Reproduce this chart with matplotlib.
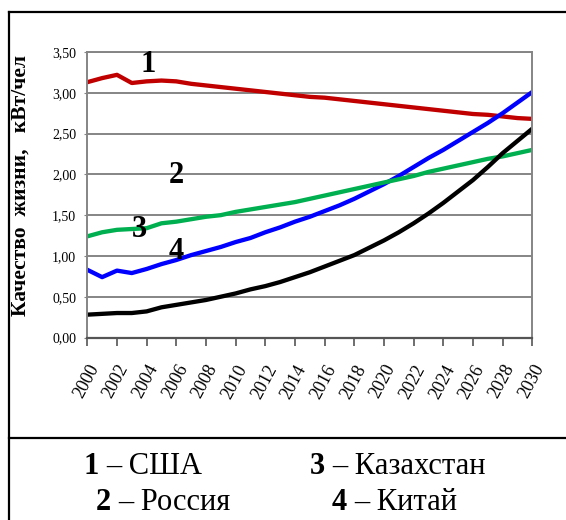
import matplotlib
matplotlib.use('Agg')
import matplotlib.pyplot as plt
from matplotlib.lines import Line2D
from matplotlib.transforms import ScaledTranslation
import numpy as np

# data
years = list(range(2000, 2031))
usa = [3.13, 3.18, 3.22, 3.12, 3.14, 3.15, 3.14, 3.11, 3.09, 3.07, 3.05,
       3.03, 3.01, 2.99, 2.97, 2.95, 2.94, 2.92, 2.90, 2.88, 2.86,
       2.84, 2.82, 2.80, 2.78, 2.76, 2.74, 2.73, 2.71, 2.69, 2.68]
blue = [0.83, 0.74, 0.82, 0.79, 0.84, 0.90, 0.95, 1.01, 1.06, 1.11, 1.17,
        1.22, 1.29, 1.35, 1.42, 1.48, 1.55, 1.62, 1.70, 1.79, 1.88,
        1.98, 2.09, 2.20, 2.30, 2.41, 2.52, 2.63, 2.75, 2.88, 3.01]
green = [1.24, 1.29, 1.32, 1.33, 1.34, 1.40, 1.42, 1.45, 1.48, 1.50, 1.54,
         1.57, 1.60, 1.63, 1.66, 1.70, 1.74, 1.78, 1.82, 1.86, 1.90,
         1.94, 1.98, 2.03, 2.07, 2.11, 2.15, 2.19, 2.22, 2.26, 2.30]
black = [0.28, 0.29, 0.30, 0.30, 0.32, 0.37, 0.40, 0.43, 0.46, 0.50, 0.54,
         0.59, 0.63, 0.68, 0.74, 0.80, 0.87, 0.94, 1.01, 1.10, 1.19,
         1.29, 1.40, 1.52, 1.65, 1.79, 1.93, 2.09, 2.26, 2.41, 2.56]

line_labels = ['1', '2', '3', '4']
label_pos = [(2004.1, 3.35), (2006.0, 1.99), (2003.5, 1.32), (2006.0, 1.05)]
legend_nums = ['1', '3', '2', '4']
legend_names = ['– США', '– Казахстан', '– Россия', '– Китай']

yticks = [0, 0.5, 1.0, 1.5, 2.0, 2.5, 3.0, 3.5]
xticks = list(range(2000, 2031, 2))

W, H = 566, 520
fig = plt.figure(figsize=(W / 100, H / 100), dpi=100)
serif = ['Liberation Serif', 'DejaVu Serif']
plt.rcParams['font.family'] = serif

ax = fig.add_axes([87.3 / W, 1 - 337.5 / H, (532.3 - 87.3) / W, (337.5 - 52) / H])

ax.plot(years, usa, color='#C00000', lw=3.1)
ax.plot(years, blue, color='#0000FF', lw=3.1)
ax.plot(years, green, color='#00B050', lw=3.1)
ax.plot(years, black, color='black', lw=3.1)

for t, (x, y) in zip(line_labels, label_pos):
    ax.text(x, y, t, fontsize=22, fontweight='bold', ha='center', va='center')

ax.set_xlim(2000, 2030)
ax.set_ylim(0, 3.5)
ax.set_yticks(yticks)
ax.set_yticklabels([f'{v:.2f}'.replace('.', ',') for v in yticks], fontsize=10)
ax.set_xticks(xticks)
ax.set_xticklabels([str(v) for v in xticks], fontsize=13, rotation=62,
                   ha='right', va='top', rotation_mode='anchor')
off = ScaledTranslation(3 / 100, 0, fig.dpi_scale_trans)
for lab in ax.get_xticklabels():
    lab.set_transform(lab.get_transform() + off)

ax.grid(axis='y', color='#858585', lw=1.4)
ax.set_axisbelow(True)
for s in ['left', 'right', 'top']:
    ax.spines[s].set_color('#858585')
    ax.spines[s].set_linewidth(1.4)
ax.spines['bottom'].set_color('#555555')
ax.spines['bottom'].set_linewidth(1.6)
ax.tick_params(axis='y', length=2, pad=6, color='#858585')
ax.tick_params(axis='x', length=5.5, width=1.2, pad=12, color='#555555')

ax.set_ylabel('Качество  жизни,   кВт/чел', fontsize=15.5, fontweight='bold')
ax.yaxis.set_label_coords(-57 / (532.3 - 87.3), 0.534)

# outer frames
def px_line(x0, y0, x1, y1):
    fig.add_artist(Line2D([x0 / W, x1 / W], [1 - y0 / H, 1 - y1 / H],
                          color='black', lw=1.6, transform=fig.transFigure))

px_line(8.5, 12, W, 12)
px_line(8.5, 12, 8.5, H)
px_line(8.5, 437.5, W, 437.5)

# legend text
leg_xy = [(84, 467), (310, 467), (96, 503), (332, 503)]
for (x, y), n, name in zip(leg_xy, legend_nums, legend_names):
    fig.text(x / W, 1 - y / H, n, fontsize=22, fontweight='bold', va='center')
    fig.text((x + 22) / W, 1 - y / H, name, fontsize=22, va='center')

fig.savefig('out.png', dpi=100)
